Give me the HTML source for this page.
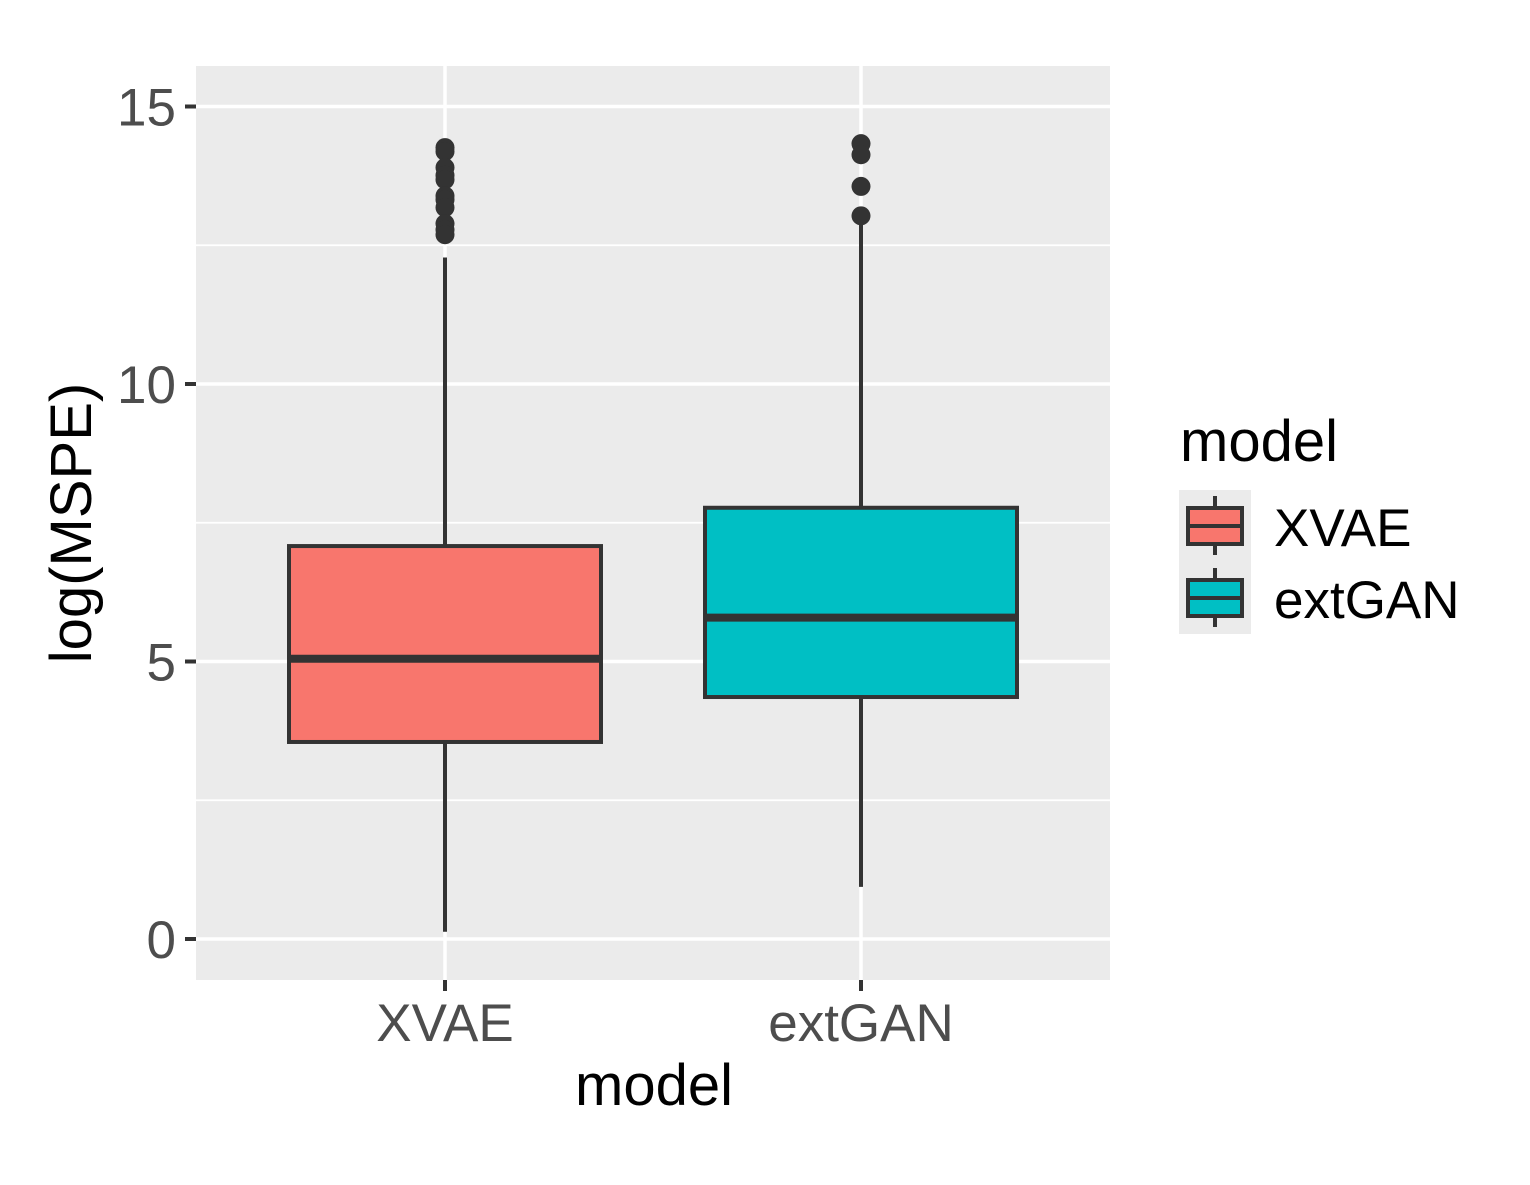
<!DOCTYPE html>
<html><head><meta charset="utf-8"><style>body{margin:0;background:#fff}svg{display:block}text{font-family:"Liberation Sans",Arial,sans-serif}</style></head>
<body>
<svg id="chart" width="1530" height="1185" xmlns="http://www.w3.org/2000/svg">
<rect x="196" y="66" width="914" height="914" fill="#ebebeb"/>
<g id="grid"></g><g id="marks"></g><g id="axes"></g>
<text x="654" y="1105" font-size="58" text-anchor="middle" fill="#000">model</text>
<text transform="translate(91,523) rotate(-90)" font-size="58" text-anchor="middle" fill="#000">log(MSPE)</text>
<g>
<text x="1180" y="461" font-size="58" fill="#000">model</text>
<rect x="1179" y="490" width="72" height="144" fill="#ebebeb"/>
<g>
<line x1="1215" y1="496" x2="1215" y2="555" stroke="#333" stroke-width="4"/>
<rect x="1188" y="508" width="54" height="36" fill="#f8766d" stroke="#333" stroke-width="4"/>
<line x1="1188" y1="526" x2="1242" y2="526" stroke="#333" stroke-width="4"/>
<text x="1274" y="546" font-size="53" fill="#000">XVAE</text></g>
<g>
<line x1="1215" y1="568" x2="1215" y2="627" stroke="#333" stroke-width="4"/>
<rect x="1188" y="580" width="54" height="36" fill="#00bfc4" stroke="#333" stroke-width="4"/>
<line x1="1188" y1="598" x2="1242" y2="598" stroke="#333" stroke-width="4"/>
<text x="1274" y="618" font-size="53" fill="#000">extGAN</text></g>
</g>
</svg>
<script>
const categories=["XVAE","extGAN"];
const colors=["#f8766d","#00bfc4"];
const q1=[3.55,4.36];
const medians=[5.05,5.79];
const q3=[7.08,7.77];
const whiskerLow=[0.13,0.94];
const whiskerHigh=[12.28,12.95];
const outliersXVAE=[14.26,14.19,13.90,13.76,13.68,13.39,13.32,13.18,12.89,12.78,12.69];
const outliersExtGAN=[14.33,14.13,13.56,13.03];
const yTicks=[0,5,10,15];
const NS="http://www.w3.org/2000/svg";
const y=v=>939-v*55.5;
const x=i=>445+i*416;
function el(t,a,p){const e=document.createElementNS(NS,t);for(const k in a)e.setAttribute(k,a[k]);document.getElementById(p).appendChild(e);return e;}
for(let v=0;v<=15;v+=2.5){const g=el('line',{x1:196,x2:1110,y1:y(v),y2:y(v),stroke:'#fff','stroke-width':v%5===0?3.5:1.8},'grid');

}
categories.forEach((c,i)=>{const g=el('line',{x1:x(i),x2:x(i),y1:66,y2:980,stroke:'#fff','stroke-width':3.5},'grid');

});
const outs=[outliersXVAE,outliersExtGAN];
categories.forEach((c,i)=>{
const cx=x(i),hw=156;
const w=el('line',{x1:cx,x2:cx,y1:y(whiskerLow[i]),y2:y(whiskerHigh[i]),stroke:'#333','stroke-width':4},'marks');


const b=el('rect',{x:cx-hw,y:y(q3[i]),width:2*hw,height:y(q1[i])-y(q3[i]),fill:colors[i],stroke:'#333','stroke-width':4},'marks');


const m=el('line',{x1:cx-hw,x2:cx+hw,y1:y(medians[i]),y2:y(medians[i]),stroke:'#333','stroke-width':8},'marks');


outs[i].forEach(v=>{const o=el('circle',{cx:cx,cy:y(v),r:9.5,fill:'#333'},'marks');

});
const t=el('line',{x1:cx,x2:cx,y1:980,y2:991,stroke:'#333','stroke-width':4},'axes');


const l=el('text',{x:cx,y:1041,'font-size':53,'text-anchor':'middle',fill:'#4d4d4d'},'axes');l.textContent=c;


});
yTicks.forEach(v=>{const t=el('line',{x1:185,x2:196,y1:y(v),y2:y(v),stroke:'#333','stroke-width':4},'axes');


const l=el('text',{x:176,y:y(v)+19,'font-size':53,'text-anchor':'end',fill:'#4d4d4d'},'axes');l.textContent=v;

});
</script>
</body></html>
